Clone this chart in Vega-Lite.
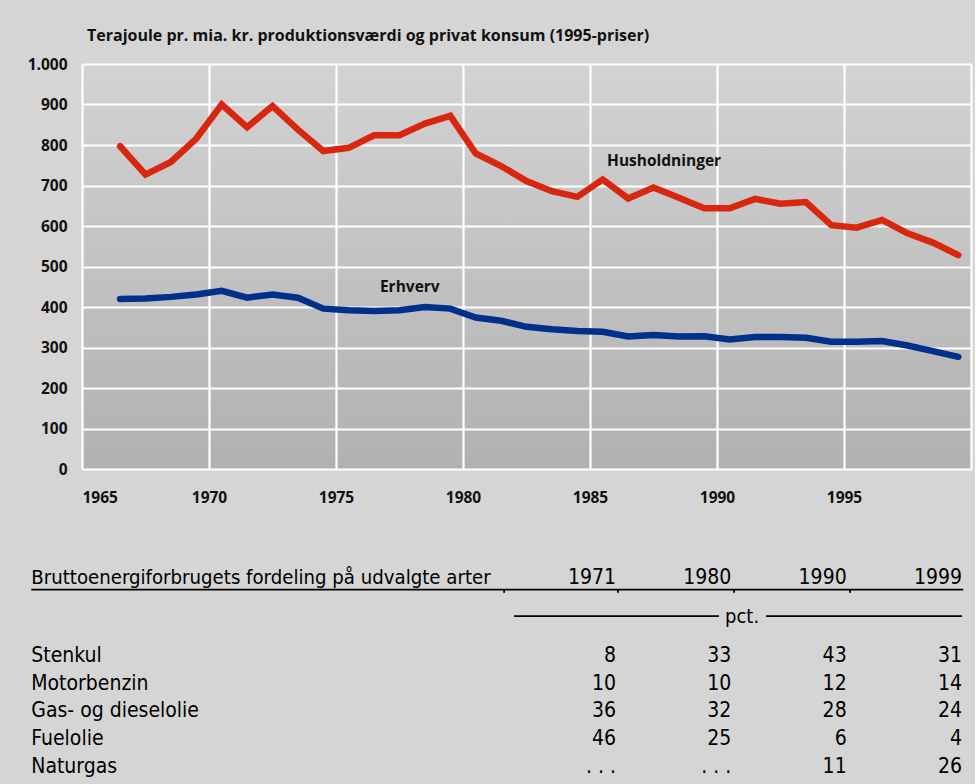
{
  "$schema": "https://vega.github.io/schema/vega-lite/v6.json",
  "background": "#d5d5d5",
  "padding": {"left": 27, "top": 28, "right": 3, "bottom": 0},
  "datasets": {
    "series": [
      {"year": 1966, "serie": "Husholdninger", "value": 797}, {"year": 1967, "serie": "Husholdninger", "value": 727},
      {"year": 1968, "serie": "Husholdninger", "value": 758}, {"year": 1969, "serie": "Husholdninger", "value": 816},
      {"year": 1970, "serie": "Husholdninger", "value": 900}, {"year": 1971, "serie": "Husholdninger", "value": 844},
      {"year": 1972, "serie": "Husholdninger", "value": 896}, {"year": 1973, "serie": "Husholdninger", "value": 838},
      {"year": 1974, "serie": "Husholdninger", "value": 785}, {"year": 1975, "serie": "Husholdninger", "value": 793},
      {"year": 1976, "serie": "Husholdninger", "value": 824}, {"year": 1977, "serie": "Husholdninger", "value": 824},
      {"year": 1978, "serie": "Husholdninger", "value": 853}, {"year": 1979, "serie": "Husholdninger", "value": 872},
      {"year": 1980, "serie": "Husholdninger", "value": 779}, {"year": 1981, "serie": "Husholdninger", "value": 748},
      {"year": 1982, "serie": "Husholdninger", "value": 711}, {"year": 1983, "serie": "Husholdninger", "value": 686},
      {"year": 1984, "serie": "Husholdninger", "value": 672}, {"year": 1985, "serie": "Husholdninger", "value": 715},
      {"year": 1986, "serie": "Husholdninger", "value": 668}, {"year": 1987, "serie": "Husholdninger", "value": 695},
      {"year": 1988, "serie": "Husholdninger", "value": 670}, {"year": 1989, "serie": "Husholdninger", "value": 644},
      {"year": 1990, "serie": "Husholdninger", "value": 644}, {"year": 1991, "serie": "Husholdninger", "value": 667},
      {"year": 1992, "serie": "Husholdninger", "value": 655}, {"year": 1993, "serie": "Husholdninger", "value": 659},
      {"year": 1994, "serie": "Husholdninger", "value": 602}, {"year": 1995, "serie": "Husholdninger", "value": 596},
      {"year": 1996, "serie": "Husholdninger", "value": 615}, {"year": 1997, "serie": "Husholdninger", "value": 582},
      {"year": 1998, "serie": "Husholdninger", "value": 559}, {"year": 1999, "serie": "Husholdninger", "value": 528},
      {"year": 1966, "serie": "Erhverv", "value": 420}, {"year": 1967, "serie": "Erhverv", "value": 421},
      {"year": 1968, "serie": "Erhverv", "value": 425}, {"year": 1969, "serie": "Erhverv", "value": 431},
      {"year": 1970, "serie": "Erhverv", "value": 440}, {"year": 1971, "serie": "Erhverv", "value": 423},
      {"year": 1972, "serie": "Erhverv", "value": 431}, {"year": 1973, "serie": "Erhverv", "value": 423},
      {"year": 1974, "serie": "Erhverv", "value": 396}, {"year": 1975, "serie": "Erhverv", "value": 392},
      {"year": 1976, "serie": "Erhverv", "value": 390}, {"year": 1977, "serie": "Erhverv", "value": 392},
      {"year": 1978, "serie": "Erhverv", "value": 400}, {"year": 1979, "serie": "Erhverv", "value": 396},
      {"year": 1980, "serie": "Erhverv", "value": 374}, {"year": 1981, "serie": "Erhverv", "value": 366},
      {"year": 1982, "serie": "Erhverv", "value": 351}, {"year": 1983, "serie": "Erhverv", "value": 345},
      {"year": 1984, "serie": "Erhverv", "value": 341}, {"year": 1985, "serie": "Erhverv", "value": 339},
      {"year": 1986, "serie": "Erhverv", "value": 327}, {"year": 1987, "serie": "Erhverv", "value": 331},
      {"year": 1988, "serie": "Erhverv", "value": 327}, {"year": 1989, "serie": "Erhverv", "value": 328},
      {"year": 1990, "serie": "Erhverv", "value": 320}, {"year": 1991, "serie": "Erhverv", "value": 326},
      {"year": 1992, "serie": "Erhverv", "value": 326}, {"year": 1993, "serie": "Erhverv", "value": 324},
      {"year": 1994, "serie": "Erhverv", "value": 314}, {"year": 1995, "serie": "Erhverv", "value": 314},
      {"year": 1996, "serie": "Erhverv", "value": 316}, {"year": 1997, "serie": "Erhverv", "value": 305},
      {"year": 1998, "serie": "Erhverv", "value": 291}, {"year": 1999, "serie": "Erhverv", "value": 277}
    ],
    "seriesLabels": [
      {"text": "Husholdninger", "year": 1985.17, "value": 760},
      {"text": "Erhverv", "year": 1976.23, "value": 449}
    ],
    "table": [
      {"row": 0, "col": -4.07, "kind": "head", "text": "Bruttoenergiforbrugets fordeling på udvalgte arter"},
      {"row": 0, "col": 1, "kind": "num", "text": "1971"},
      {"row": 0, "col": 2, "kind": "num", "text": "1980"},
      {"row": 0, "col": 3, "kind": "num", "text": "1990"},
      {"row": 0, "col": 4, "kind": "num", "text": "1999"},
      {"row": 1, "col": 2.093, "kind": "mid", "text": "pct."},
      {"row": 2, "col": -4.07, "kind": "label", "text": "Stenkul"},
      {"row": 2, "col": 1, "kind": "num", "text": "8"},
      {"row": 2, "col": 2, "kind": "num", "text": "33"},
      {"row": 2, "col": 3, "kind": "num", "text": "43"},
      {"row": 2, "col": 4, "kind": "num", "text": "31"},
      {"row": 3, "col": -4.07, "kind": "label", "text": "Motorbenzin"},
      {"row": 3, "col": 1, "kind": "num", "text": "10"},
      {"row": 3, "col": 2, "kind": "num", "text": "10"},
      {"row": 3, "col": 3, "kind": "num", "text": "12"},
      {"row": 3, "col": 4, "kind": "num", "text": "14"},
      {"row": 4, "col": -4.07, "kind": "label", "text": "Gas- og dieselolie"},
      {"row": 4, "col": 1, "kind": "num", "text": "36"},
      {"row": 4, "col": 2, "kind": "num", "text": "32"},
      {"row": 4, "col": 3, "kind": "num", "text": "28"},
      {"row": 4, "col": 4, "kind": "num", "text": "24"},
      {"row": 5, "col": -4.07, "kind": "label", "text": "Fuelolie"},
      {"row": 5, "col": 1, "kind": "num", "text": "46"},
      {"row": 5, "col": 2, "kind": "num", "text": "25"},
      {"row": 5, "col": 3, "kind": "num", "text": "6"},
      {"row": 5, "col": 4, "kind": "num", "text": "4"},
      {"row": 6, "col": -4.07, "kind": "label", "text": "Naturgas"},
      {"row": 6, "col": 1, "kind": "num", "text": ". . ."},
      {"row": 6, "col": 2, "kind": "num", "text": ". . ."},
      {"row": 6, "col": 3, "kind": "num", "text": "11"},
      {"row": 6, "col": 4, "kind": "num", "text": "26"}
    ],
    "tableRules": [
      {"x1": -4.07, "x2": 4.01, "y1": 0.14, "y2": 0.14},
      {"x1": 0.116, "x2": 1.893, "y1": 0.82, "y2": 0.82},
      {"x1": 2.301, "x2": 4.0, "y1": 0.82, "y2": 0.82},
      {"x1": 0.03, "x2": 0.03, "y1": 0.14, "y2": 0.22},
      {"x1": 1.017, "x2": 1.017, "y1": 0.14, "y2": 0.22},
      {"x1": 2.023, "x2": 2.023, "y1": 0.14, "y2": 0.22},
      {"x1": 3.03, "x2": 3.03, "y1": 0.14, "y2": 0.22}
    ]
  },
  "vconcat": [
    {
      "width": 889,
      "height": 405,
      "title": {
        "text": "Terajoule pr. mia. kr. produktionsværdi og privat konsum (1995-priser)",
        "anchor": "start",
        "frame": "group",
        "dx": 5,
        "offset": 13,
        "font": "Open Sans",
        "fontSize": 16,
        "fontWeight": "bold",
        "color": "#111111"
      },
      "view": {
        "stroke": null,
        "fill": {
          "gradient": "linear",
          "x1": 0, "y1": 0, "x2": 0, "y2": 1,
          "stops": [{"offset": 0, "color": "#d3d3d3"}, {"offset": 1, "color": "#b1b1b1"}]
        }
      },
      "layer": [
        {
          "data": {"name": "series"},
          "mark": {"type": "line", "strokeWidth": 6.5, "strokeCap": "round", "strokeJoin": "miter"},
          "encoding": {
            "x": {
              "field": "year", "type": "quantitative",
              "scale": {"domain": [1964.5, 1999.5], "nice": false, "zero": false},
              "axis": {
                "title": null,
                "values": [1964.5, 1969.5, 1974.5, 1979.5, 1984.5, 1989.5, 1994.5, 1999.5],
                "labelExpr": "datum.value > 1999 ? '' : format(datum.value + 0.5, 'd')",
                "labelDx": 12.7,
                "labelPadding": 21,
                "labelFont": "Open Sans",
                "labelFontSize": 15.5,
                "labelFontWeight": "bold",
                "labelColor": "#111111",
                "ticks": false,
                "domain": false,
                "grid": true,
                "gridColor": "#ffffff",
                "gridOpacity": 1,
                "gridWidth": 2.2
              }
            },
            "y": {
              "field": "value", "type": "quantitative",
              "scale": {"domain": [0, 1000], "nice": false},
              "axis": {
                "title": null,
                "values": [0, 100, 200, 300, 400, 500, 600, 700, 800, 900, 1000],
                "labelExpr": "datum.value == 1000 ? '1.000' : datum.label",
                "labelPadding": 15,
                "labelFont": "Open Sans",
                "labelFontSize": 15.5,
                "labelFontWeight": "bold",
                "labelColor": "#111111",
                "ticks": false,
                "domain": false,
                "grid": true,
                "gridColor": "#ffffff",
                "gridOpacity": 1,
                "gridWidth": 2.2
              }
            },
            "color": {
              "field": "serie", "type": "nominal",
              "scale": {"domain": ["Husholdninger", "Erhverv"], "range": ["#d9260f", "#00318a"]},
              "legend": null
            },
            "detail": {"field": "serie"}
          }
        },
        {
          "data": {"name": "seriesLabels"},
          "mark": {"type": "text", "align": "left", "baseline": "middle", "font": "Open Sans", "fontSize": 15.5, "fontWeight": "bold", "color": "#111111"},
          "encoding": {
            "x": {"field": "year", "type": "quantitative"},
            "y": {"field": "value", "type": "quantitative"},
            "text": {"field": "text"}
          }
        }
      ]
    },
    {
      "width": 889,
      "height": 256,
      "view": {"stroke": null, "fill": null},
      "layer": [
        {
          "data": {"name": "tableRules"},
          "mark": {"type": "rule", "color": "#000000", "strokeWidth": 1.8},
          "encoding": {
            "x": {"field": "x1", "type": "quantitative", "scale": {"domain": [-3.63, 4.078], "nice": false, "zero": false}, "axis": null},
            "x2": {"field": "x2"},
            "y": {"field": "y1", "type": "quantitative", "scale": {"domain": [0, 2, 6], "range": [55.3, 132.7, 243.9], "nice": false, "zero": false}, "axis": null},
            "y2": {"field": "y2"}
          }
        },
        {
          "data": {"name": "table"},
          "transform": [{"filter": "datum.kind == 'head'"}],
          "mark": {"type": "text", "align": "left", "baseline": "alphabetic", "font": "DejaVu Sans Condensed, Roboto Condensed, Roboto, sans-serif", "fontSize": 20.2, "color": "#000000"},
          "encoding": {
            "x": {"field": "col", "type": "quantitative", "scale": {"domain": [-3.63, 4.078], "nice": false, "zero": false}, "axis": null},
            "y": {"field": "row", "type": "quantitative", "scale": {"domain": [0, 2, 6], "range": [55.3, 132.7, 243.9], "nice": false, "zero": false}, "axis": null},
            "text": {"field": "text"}
          }
        },
        {
          "data": {"name": "table"},
          "transform": [{"filter": "datum.kind == 'label'"}],
          "mark": {"type": "text", "align": "left", "baseline": "alphabetic", "font": "DejaVu Sans Condensed, Roboto Condensed, Roboto, sans-serif", "fontSize": 21, "color": "#000000"},
          "encoding": {
            "x": {"field": "col", "type": "quantitative"},
            "y": {"field": "row", "type": "quantitative"},
            "text": {"field": "text"}
          }
        },
        {
          "data": {"name": "table"},
          "transform": [{"filter": "datum.kind == 'num'"}],
          "mark": {"type": "text", "align": "right", "baseline": "alphabetic", "font": "DejaVu Sans Condensed, Roboto Condensed, Roboto, sans-serif", "fontSize": 21, "color": "#000000"},
          "encoding": {
            "x": {"field": "col", "type": "quantitative"},
            "y": {"field": "row", "type": "quantitative"},
            "text": {"field": "text"}
          }
        },
        {
          "data": {"name": "table"},
          "transform": [{"filter": "datum.kind == 'mid'"}],
          "mark": {"type": "text", "align": "center", "baseline": "alphabetic", "font": "DejaVu Sans Condensed, Roboto Condensed, Roboto, sans-serif", "fontSize": 20, "color": "#000000"},
          "encoding": {
            "x": {"field": "col", "type": "quantitative"},
            "y": {"field": "row", "type": "quantitative"},
            "text": {"field": "text"}
          }
        }
      ]
    }
  ],
  "spacing": 60,
  "bounds": "flush",
  "config": {
    "view": {"stroke": null},
    "font": "Open Sans"
  }
}
